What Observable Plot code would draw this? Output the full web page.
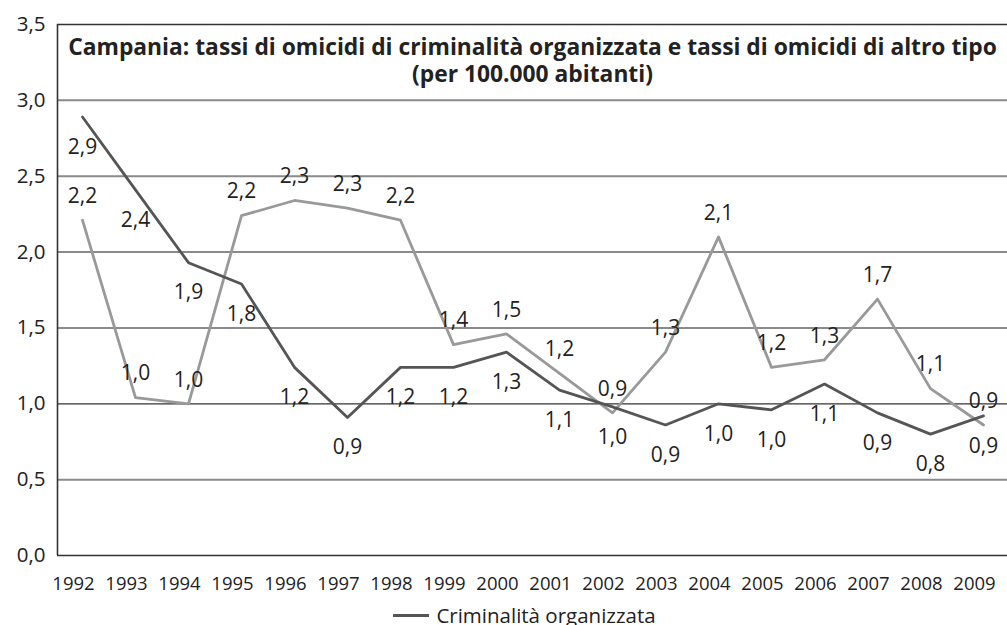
<!DOCTYPE html>
<html>
<head>
<meta charset="utf-8">
<script src="https://cdn.jsdelivr.net/npm/d3@7"></script>
<script src="https://cdn.jsdelivr.net/npm/@observablehq/plot@0.6"></script>
<style>
  html, body { margin: 0; padding: 0; background: #fff; overflow: hidden; }
  #chart { width: 1007px; height: 600px; }
  #chart svg { display: block; }
  .legend { font-family: "Open Sans", sans-serif; font-size: 20.5px; color: #222; display: flex; justify-content: center; align-items: center; gap: 7px; margin-top: 3px; padding-left: 42px; line-height: 24px; }
  .legend .sw { display: inline-block; width: 36px; height: 0; border-top: 3px solid #555; }
</style>
</head>
<body>
<div id="chart"></div>
<script>
const years = [1992,1993,1994,1995,1996,1997,1998,1999,2000,2001,2002,2003,2004,2005,2006,2007,2008,2009];
const organizzata = [2.89,2.41,1.93,1.79,1.24,0.91,1.24,1.24,1.34,1.09,0.98,0.86,1.00,0.96,1.13,0.94,0.80,0.92];
const altroTipo = [2.21,1.04,1.00,2.24,2.34,2.29,2.21,1.39,1.46,1.20,0.94,1.34,2.10,1.24,1.29,1.69,1.10,0.86];
const yTicks = [0,0.5,1,1.5,2,2.5,3,3.5];
const titleText = "Campania: tassi di omicidi di criminalità organizzata e tassi di omicidi di altro tipo\n(per 100.000 abitanti)";
const legendLabel = "Criminalità organizzata";

const fmt = v => v.toFixed(1).replace(".", ",");
const dataOrg = years.map((y, i) => ({year: y, value: organizzata[i]}));
const dataAlt = years.map((y, i) => ({year: y, value: altroTipo[i]}));

const x0 = 1992 - 25 / 53, x1 = 1992 + 925 / 53;
const font = "Open Sans, sans-serif";

const chart = Plot.plot({
  width: 1007,
  height: 600,
  marginLeft: 57,
  marginRight: 0,
  marginTop: 24,
  marginBottom: 45,
  style: {fontFamily: font, color: "#222", background: "#fff"},
  x: {type: "linear", domain: [x0, x1], label: null},
  y: {domain: [0, 3.5], label: null},
  marks: [
    Plot.ruleY(yTicks.filter(t => t !== 0 && t !== 1 && t !== 3.5), {stroke: "#8a8a8a", strokeWidth: 2}),
    Plot.ruleY([1], {stroke: "#333", strokeWidth: 1.2}),
    Plot.ruleY([0, 3.5], {stroke: "#333", strokeWidth: 1.6}),
    Plot.ruleX([x0], {stroke: "#333", strokeWidth: 1.6}),
    Plot.axisY({ticks: yTicks, tickSize: 0, tickPadding: 12, tickFormat: fmt, fontSize: 20.5, fill: "#222", label: null}),
    Plot.axisX({ticks: years, tickSize: 0, tickPadding: 21, tickFormat: d => String(d), fontSize: 18.5, dx: -9, fill: "#222", label: null}),
    Plot.line(dataAlt, {x: "year", y: "value", stroke: "#999", strokeWidth: 2.8}),
    Plot.line(dataOrg, {x: "year", y: "value", stroke: "#555", strokeWidth: 2.8}),
    Plot.text(dataAlt, {x: "year", y: "value", text: d => fmt(d.value), dy: -24, fontSize: 21, fill: "#222"}),
    Plot.text(dataOrg, {x: "year", y: "value", text: d => fmt(d.value), dy: 30, fontSize: 21, fill: "#222"}),
    Plot.text([titleText], {frameAnchor: "top", dy: 11, lineHeight: 1.2, fontSize: 22.8, fontWeight: "bold", fill: "#222", lineAnchor: "top"})
  ]
});
document.getElementById("chart").appendChild(chart);

const leg = document.createElement("div");
leg.className = "legend";
leg.innerHTML = `<span class="sw"></span><span>${legendLabel}</span>`;
document.body.appendChild(leg);
</script>
</body>
</html>
